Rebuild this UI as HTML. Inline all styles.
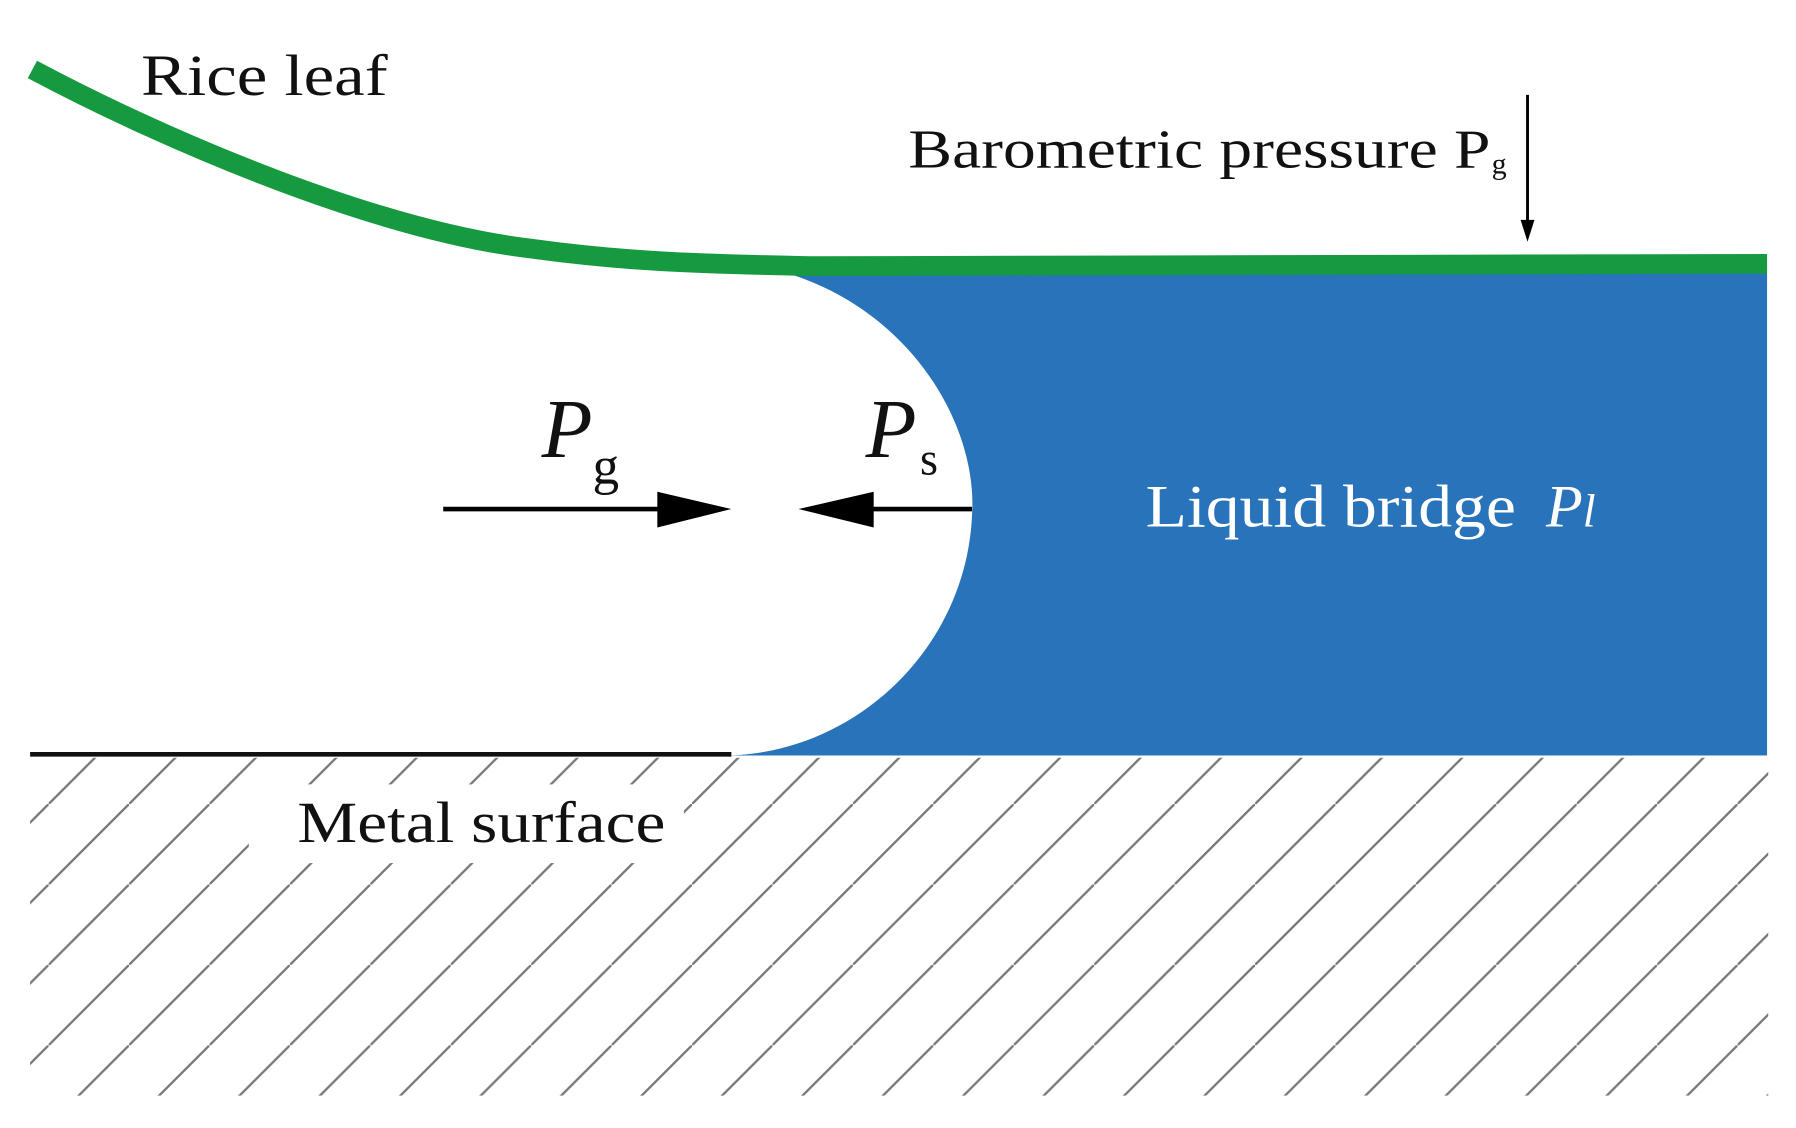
<!DOCTYPE html>
<html><head><meta charset="utf-8"><style>
html,body{margin:0;padding:0;background:#fff;width:1796px;height:1128px;overflow:hidden}
svg{display:block}
text{font-family:"Liberation Serif",serif}
</style></head><body>
<svg width="1796" height="1128" viewBox="0 0 1552 975" preserveAspectRatio="none">
<defs>
<pattern id="h" patternUnits="userSpaceOnUse" width="69.5" height="69.5" x="42" y="0">
<line x1="-2" y1="71.5" x2="71.5" y2="-2" stroke="#777" stroke-width="2"/>
</pattern>
</defs>
<rect x="26" y="655" width="1502" height="292" fill="url(#h)"/>
<rect x="215" y="678" width="376" height="68" fill="#fff"/>
<path d="M680,236 C790,270 845,370 840,445 C835,560 740,650 630,653 L1527,653 L1527,236 Z" fill="#2873b9"/>
<line x1="26" y1="652" x2="632" y2="652" stroke="#111" stroke-width="4"/>
<path d="M28,60 C150,125 330,200 460,215 C540,226 600,228 700,230 L1527,228" fill="none" stroke="#159a3f" stroke-width="17"/>
<text x="122" y="82" font-size="50" fill="#111" textLength="213" lengthAdjust="spacingAndGlyphs">Rice leaf</text>
<text x="785" y="145" font-size="48" fill="#111" textLength="503" lengthAdjust="spacingAndGlyphs">Barometric pressure P</text>
<text x="1289" y="150" font-size="26" fill="#111">g</text>
<line x1="1320" y1="82" x2="1320" y2="192" stroke="#000" stroke-width="2.5"/>
<path d="M1314,190 L1320,209 L1326,190 Z" fill="#000"/>
<text x="468" y="395" font-size="72" font-style="italic" fill="#111">P</text>
<text x="512" y="418" font-size="46" fill="#111">g</text>
<text x="748" y="395" font-size="72" font-style="italic" fill="#111">P</text>
<text x="795" y="410" font-size="40" fill="#111">s</text>
<line x1="383" y1="440" x2="575" y2="440" stroke="#000" stroke-width="4"/>
<path d="M568,425 L632,440 L568,456 Z" fill="#000"/>
<line x1="745" y1="440" x2="840" y2="440" stroke="#000" stroke-width="4"/>
<path d="M755,425 L690,440 L755,456 Z" fill="#000"/>
<text x="990" y="455" font-size="52" fill="#fff" textLength="320" lengthAdjust="spacingAndGlyphs">Liquid bridge</text>
<text x="1336" y="455" font-size="52" font-style="italic" fill="#fff">P<tspan font-size="40">l</tspan></text>
<text x="257" y="728" font-size="50" fill="#111" textLength="318" lengthAdjust="spacingAndGlyphs">Metal surface</text>
</svg>
</body></html>
